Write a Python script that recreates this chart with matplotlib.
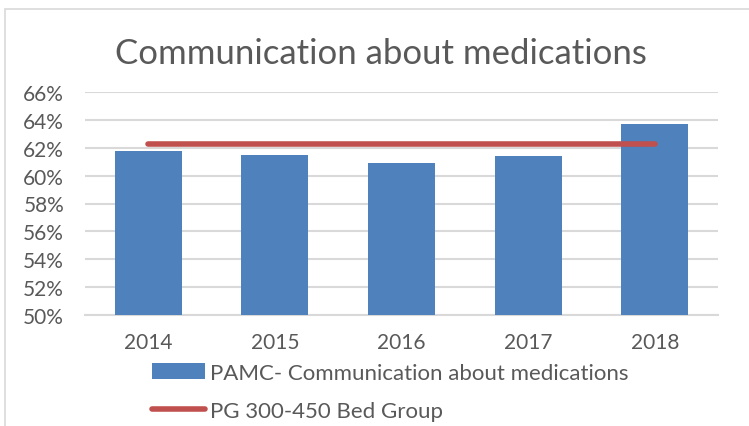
import matplotlib.pyplot as plt
from matplotlib.patches import Rectangle
from matplotlib.ticker import FuncFormatter
import numpy as np

years = ['2014', '2015', '2016', '2017', '2018']
pamc = [61.8, 61.5, 60.9, 61.4, 63.7]         # PAMC- Communication about medications
pg_group = [62.3, 62.3, 62.3, 62.3, 62.3]     # PG 300-450 Bed Group

grey = '#595959'
plt.rcParams['font.family'] = ['Lato', 'DejaVu Sans']

fig = plt.figure(figsize=(7.49, 4.27), dpi=100)

# chart frame (cut off at right/bottom like the screenshot)
fig.patches.append(Rectangle((5/749, -0.1), 1.2, 1 - 10/427 + 0.1,
                             transform=fig.transFigure, fill=False,
                             edgecolor='#d9d9d9', linewidth=1.2))

ax = fig.add_axes([85/749, 1 - 316/427, (718 - 85)/749, (316 - 93)/427])

x = np.arange(len(years))
bars = ax.bar(x, pamc, width=0.53, color='#4F81BD', zorder=3,
              label='PAMC- Communication about medications')
line, = ax.plot(x, pg_group, color='#C0504D', linewidth=4,
                solid_capstyle='round', zorder=4, label='PG 300-450 Bed Group')

ax.set_ylim(50, 66)
ax.set_yticks(np.arange(50, 67, 2))
ax.yaxis.set_major_formatter(FuncFormatter(lambda v, p: '%d%%' % v))
ax.set_xlim(-0.5, len(years) - 0.5)
ax.set_xticks(x)
ax.set_xticklabels(years)

ax.grid(axis='y', color='#d9d9d9', linewidth=1.5, zorder=0)
for s in ['top', 'right', 'left']:
    ax.spines[s].set_visible(False)
ax.spines['bottom'].set_color('#d9d9d9')
ax.spines['bottom'].set_linewidth(1.5)
ax.tick_params(axis='both', length=0, labelsize=15, colors=grey)
ax.tick_params(axis='y', pad=15)
ax.tick_params(axis='x', pad=12)

fig.text(381/749, 1 - 54/427, 'Communication about medications', ha='center',
         va='center', fontsize=25, color=grey)

fig.legend([bars, line], [bars.get_label(), line.get_label()],
           loc='upper left', bbox_to_anchor=(152/749, 1 - 364/427),
           frameon=False, fontsize=16, labelcolor=grey, handlelength=2.4,
           handletextpad=0.2, labelspacing=0.8, borderpad=0, borderaxespad=0)

fig.savefig('out.png', dpi=100)
